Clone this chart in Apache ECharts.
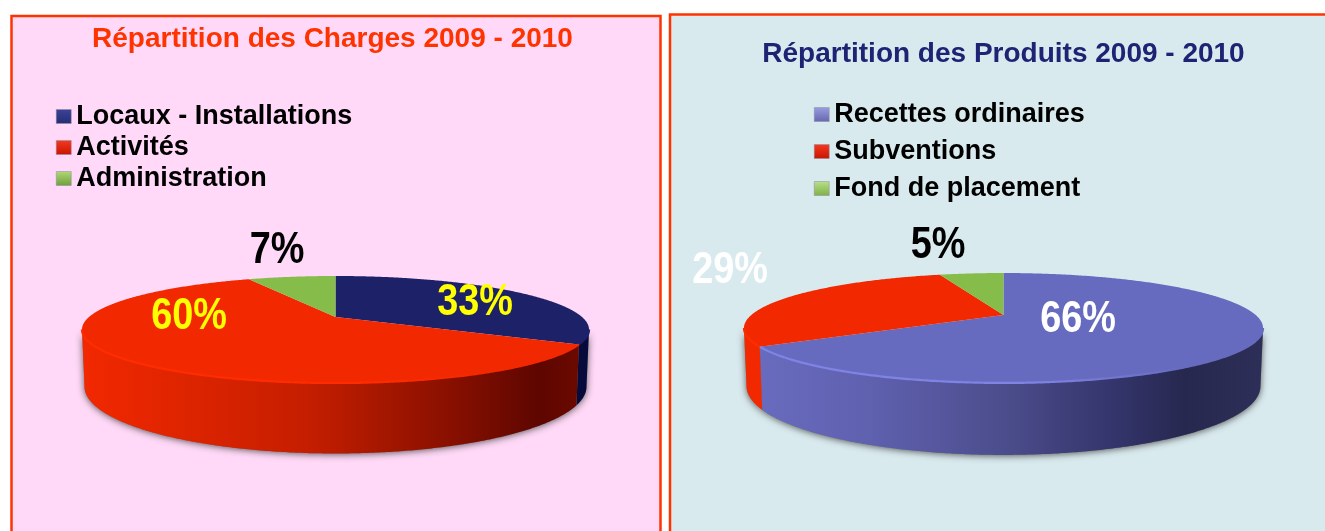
<!DOCTYPE html>
<html><head><meta charset="utf-8">
<style>html,body{margin:0;padding:0;background:#fff}#c{width:1325px;height:531px}</style>
<script src="https://cdn.jsdelivr.net/npm/echarts@6/dist/echarts.min.js"></script>
</head><body><div id="c"></div>
<script>
// ---- data ----
const chargesNames = ['Locaux - Installations', 'Activités', 'Administration'];
const chargesValues = [33, 60, 7];
const produitsNames = ['Recettes ordinaires', 'Subventions', 'Fond de placement'];
const produitsValues = [66, 29, 5];
const chargesTitle = 'Répartition des Charges 2009 - 2010';
const produitsTitle = 'Répartition des Produits 2009 - 2010';

// ---- styles and layout ----
const FONT = '"Liberation Sans", Arial, sans-serif';
const chargesTop = ['#1D2268', '#F22800', '#85BC4A'];
const produitsTop = ['#676BBF', '#F22800', '#85BC4A'];
const chargesRim = ['#2A3080', '#FF2C00', '#85BC4A'];
const produitsRim = ['#7F83E4', '#FF2C00', '#85BC4A'];
const chargesLabelColor = ['#FFFF00', '#FFFF00', '#000000'];
const produitsLabelColor = ['#FFFFFF', '#FFFFFF', '#000000'];
const chargesLabelAt = [[475, 303], [189, 317], [277, 251]];
const produitsLabelAt = [[1078, 320], [730, 271], [938, 246]];
const chargesWall = [
  [[0, '#070B3C'], [1, '#070B3C']],
  [[0, '#F22800'], [0.2, '#DE2400'], [0.45, '#C41E00'], [0.72, '#8A1000'], [0.9, '#5E0600'], [1, '#6E0A00']],
  [[0, '#5E8A30'], [1, '#5E8A30']]
];
const produitsWall = [
  [[0, '#6A6CC0'], [0.25, '#5F60AE'], [0.5, '#4C4D8C'], [0.72, '#33346A'], [0.85, '#27284F'], [1, '#2E2F58']],
  [[0, '#F22800'], [1, '#F22800']],
  [[0, '#5E8A30'], [1, '#5E8A30']]
];
const chargesPie = { cx: 335.5, cy: 317, sx: 246.5, a: 50.6, k: 0.2336, d: 54 };
const produitsPie = { cx: 1003.5, cy: 315, sx: 252.2, a: 51.9, k: 0.236, d: 55 };

function project(p, deg, low) {
  const t = deg * Math.PI / 180, X = Math.sin(t), Y = -Math.cos(t), w = 1 - p.k * Y;
  return [
    p.cx + p.sx * X / w * (low ? 0.99 : 1),
    p.cy + p.a * Y / w + (low ? p.d / w : 0)
  ];
}
function arc(p, from, to, low) {
  const pts = [], n = Math.max(2, Math.ceil(Math.abs(to - from) * 2));
  for (let i = 0; i <= n; i++) pts.push(project(p, from + (to - from) * i / n, low));
  return pts;
}
function sliceSeries(pie, names, values, tops, rims, walls, labelColors, labelAt) {
  const total = values.reduce((s, v) => s + v, 0);
  let acc = 0;
  return names.map((name, i) => {
    const start = acc / total * 360;
    acc += values[i];
    const end = acc / total * 360;
    return {
      type: 'custom', name, coordinateSystem: 'none', silent: true, animation: false,
      itemStyle: { color: tops[i] },
      data: [values[i]],
      renderItem() {
        const kids = [];
        const lim = Math.acos(-pie.k) * 180 / Math.PI;
        const w0 = Math.max(start, lim), w1 = Math.min(end, 360 - lim);
        const xL = pie.cx - pie.sx * 1.03, xR = pie.cx + pie.sx * 1.03;
        if (w1 > w0) {
          const up = arc(pie, w0, w1, false), lowPts = arc(pie, w1, w0, true);
          const poly = up.concat(lowPts);
          kids.push({
            type: 'polygon', z2: 0, shape: { points: poly },
            style: { fill: '#777', shadowBlur: 7, shadowColor: 'rgba(40,40,40,0.75)', shadowOffsetY: 1 }
          });
          kids.push({
            type: 'polygon', z2: 1, shape: { points: poly },
            style: {
              fill: {
                type: 'linear', global: true, x: xL, y: 0, x2: xR, y2: 0,
                colorStops: walls[i].map(s => ({ offset: s[0], color: s[1] }))
              }
            }
          });
          kids.push({
            type: 'polyline', z2: 3, shape: { points: up },
            style: {
              fill: 'none', lineWidth: 2.2,
              stroke: {
                type: 'linear', global: true, x: xL, y: 0, x2: xR, y2: 0,
                colorStops: [{ offset: 0, color: rims[i] }, { offset: 0.55, color: rims[i] }, { offset: 0.85, color: tops[i] }, { offset: 1, color: tops[i] }]
              }
            }
          });
        }
        kids.push({
          type: 'polygon', z2: 2,
          shape: { points: [[pie.cx, pie.cy]].concat(arc(pie, start, end, false)) },
          style: { fill: tops[i] }
        });
        kids.push({
          type: 'text', z2: 5, x: labelAt[i][0], y: labelAt[i][1], scaleX: 0.86,
          style: {
            text: Math.round(values[i] / total * 100) + '%', x: 0, y: 0,
            font: 'bold 44px ' + FONT, fill: labelColors[i],
            textAlign: 'center', textVerticalAlign: 'middle'
          }
        });
        return { type: 'group', children: kids };
      }
    };
  });
}
function bevel(c1, c2) {
  return { type: 'linear', x: 0, y: 0, x2: 0, y2: 1, colorStops: [{ offset: 0, color: c1 }, { offset: 1, color: c2 }] };
}
const chargesIcons = [bevel('#3A4396', '#252D75'), bevel('#F53A20', '#C81400'), bevel('#B0D878', '#6F9E3A')];
const produitsIcons = [bevel('#9A9CE0', '#6668B0'), bevel('#F53A20', '#C81400'), bevel('#B8E088', '#7FB048')];
function legendOf(names, icons, left, top, gap, font) {
  return {
    orient: 'vertical', left, top, itemGap: gap, itemWidth: 15, itemHeight: 14, padding: 0,
    selectedMode: false, icon: 'rect',
    textStyle: { fontFamily: FONT, fontWeight: 'bold', fontSize: font, color: '#000' },
    data: names.map((name, i) => ({ name, itemStyle: { color: icons[i], borderColor: '#8a8aa0', borderWidth: 0.5 } }))
  };
}

const chart = echarts.init(document.getElementById('c'), null, { renderer: 'canvas' });
chart.setOption({
  animation: false,
  backgroundColor: '#fff',
  graphic: [
    { type: 'rect', z: -5, silent: true, shape: { x: 11.5, y: 16, width: 649, height: 530 }, style: { fill: '#FFD9F7', stroke: '#FF3300', lineWidth: 2.5 } },
    { type: 'rect', z: -5, silent: true, shape: { x: 670, y: 14.5, width: 670, height: 530 }, style: { fill: '#D9EAEE', stroke: '#FF3300', lineWidth: 2.5 } }
  ],
  title: [
    { text: chargesTitle, left: 332.5, top: 39, textAlign: 'center', textVerticalAlign: 'middle', padding: 0, textStyle: { fontFamily: FONT, fontWeight: 'bold', fontSize: 28, color: '#FF3300' } },
    { text: produitsTitle, left: 1003.5, top: 54, textAlign: 'center', textVerticalAlign: 'middle', padding: 0, textStyle: { fontFamily: FONT, fontWeight: 'bold', fontSize: 28, color: '#1F2373' } }
  ],
  legend: [
    legendOf(chargesNames, chargesIcons, 56, 103, 4, 27),
    legendOf(produitsNames, produitsIcons, 814, 101, 10, 27)
  ],
  series: [
    ...sliceSeries(chargesPie, chargesNames, chargesValues, chargesTop, chargesRim, chargesWall, chargesLabelColor, chargesLabelAt),
    ...sliceSeries(produitsPie, produitsNames, produitsValues, produitsTop, produitsRim, produitsWall, produitsLabelColor, produitsLabelAt)
  ]
});
</script></body></html>
